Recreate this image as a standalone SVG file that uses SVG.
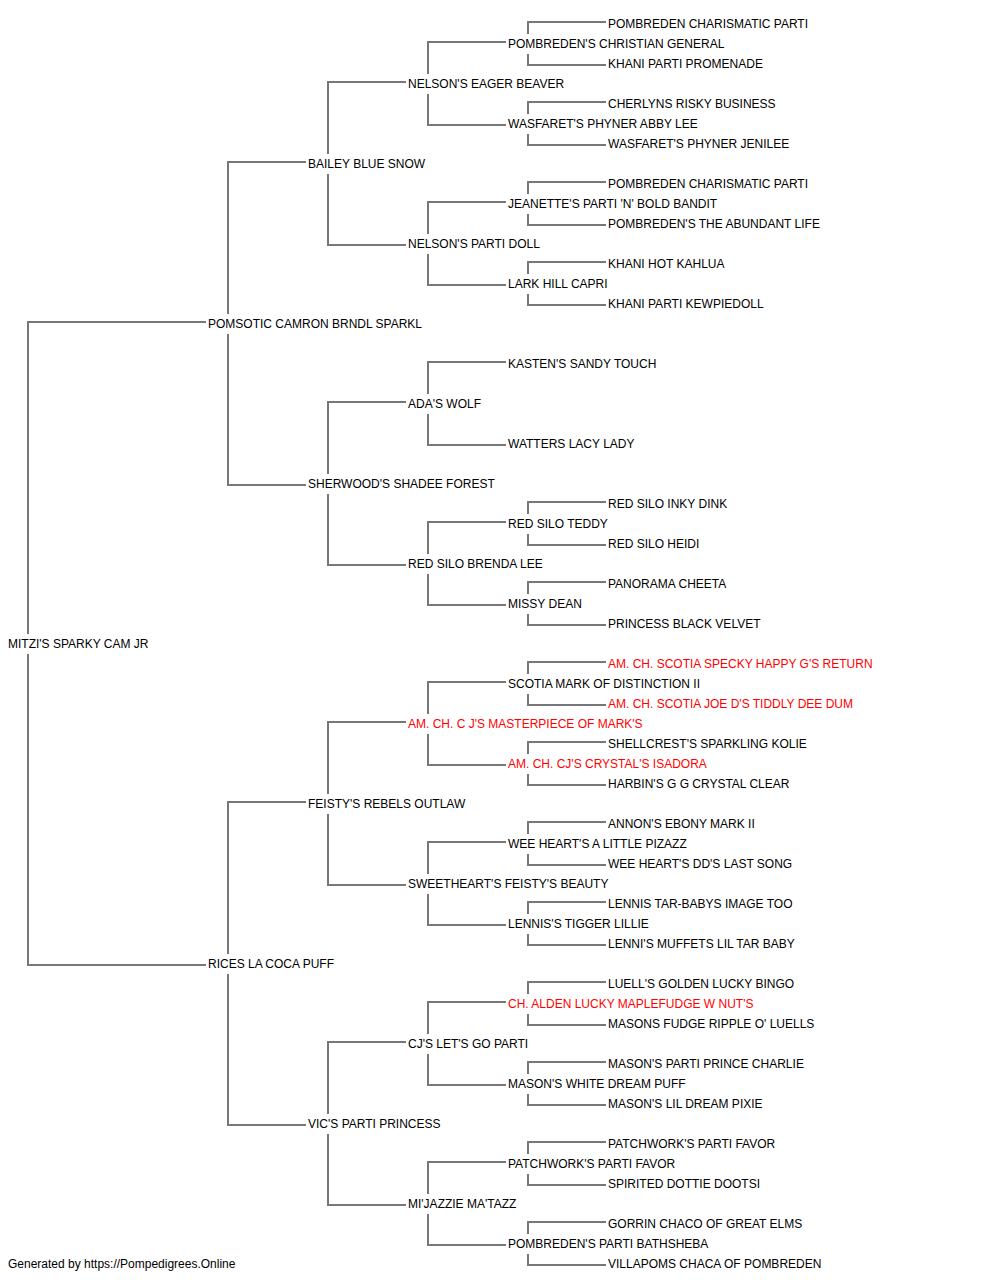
<svg xmlns="http://www.w3.org/2000/svg" width="1000" height="1280" viewBox="0 0 1000 1280">
<style>
text{font-family:"Liberation Sans",Arial,sans-serif;font-size:12px;fill:#000}
text.red{fill:#ff0000}
.conn path{fill:none;stroke:#777;stroke-width:2}
</style>
<rect width="1000" height="1280" fill="#fff"/>
<g class="conn" id="connectors">
<path d="M206,322 H28 V634 M28,654 V965 H206"/>
<path d="M306,162 H228 V314 M228,334 V485 H306"/>
<path d="M306,802 H228 V954 M228,974 V1125 H306"/>
<path d="M406,82 H328 V154 M328,174 V245 H406"/>
<path d="M406,402 H328 V474 M328,494 V565 H406"/>
<path d="M406,722 H328 V794 M328,814 V885 H406"/>
<path d="M406,1042 H328 V1114 M328,1134 V1205 H406"/>
<path d="M506,42 H428 V74 M428,94 V125 H506"/>
<path d="M506,202 H428 V234 M428,254 V285 H506"/>
<path d="M506,362 H428 V394 M428,414 V445 H506"/>
<path d="M506,522 H428 V554 M428,574 V605 H506"/>
<path d="M506,682 H428 V714 M428,734 V765 H506"/>
<path d="M506,842 H428 V874 M428,894 V925 H506"/>
<path d="M506,1002 H428 V1034 M428,1054 V1085 H506"/>
<path d="M506,1162 H428 V1194 M428,1214 V1245 H506"/>
<path d="M606,22 H528 V34 M528,54 V65 H606"/>
<path d="M606,102 H528 V114 M528,134 V145 H606"/>
<path d="M606,182 H528 V194 M528,214 V225 H606"/>
<path d="M606,262 H528 V274 M528,294 V305 H606"/>
<path d="M606,502 H528 V514 M528,534 V545 H606"/>
<path d="M606,582 H528 V594 M528,614 V625 H606"/>
<path d="M606,662 H528 V674 M528,694 V705 H606"/>
<path d="M606,742 H528 V754 M528,774 V785 H606"/>
<path d="M606,822 H528 V834 M528,854 V865 H606"/>
<path d="M606,902 H528 V914 M528,934 V945 H606"/>
<path d="M606,982 H528 V994 M528,1014 V1025 H606"/>
<path d="M606,1062 H528 V1074 M528,1094 V1105 H606"/>
<path d="M606,1142 H528 V1154 M528,1174 V1185 H606"/>
<path d="M606,1222 H528 V1234 M528,1254 V1265 H606"/>
</g>
<g id="n0"><text x="8" y="648">MITZI'S SPARKY CAM JR</text></g>
<g id="n1"><text x="208" y="328">POMSOTIC CAMRON BRNDL SPARKL</text></g>
<g id="n2"><text x="208" y="968">RICES LA COCA PUFF</text></g>
<g id="n3"><text x="308" y="168">BAILEY BLUE SNOW</text></g>
<g id="n4"><text x="308" y="488">SHERWOOD'S SHADEE FOREST</text></g>
<g id="n5"><text x="308" y="808">FEISTY'S REBELS OUTLAW</text></g>
<g id="n6"><text x="308" y="1128">VIC'S PARTI PRINCESS</text></g>
<g id="n7"><text x="408" y="88">NELSON'S EAGER BEAVER</text></g>
<g id="n8"><text x="408" y="248">NELSON'S PARTI DOLL</text></g>
<g id="n9"><text x="408" y="408">ADA'S WOLF</text></g>
<g id="n10"><text x="408" y="568">RED SILO BRENDA LEE</text></g>
<g id="n11"><text class="red" x="408" y="728">AM. CH. C J'S MASTERPIECE OF MARK'S</text></g>
<g id="n12"><text x="408" y="888">SWEETHEART'S FEISTY'S BEAUTY</text></g>
<g id="n13"><text x="408" y="1048">CJ'S LET'S GO PARTI</text></g>
<g id="n14"><text x="408" y="1208">MI'JAZZIE MA'TAZZ</text></g>
<g id="n15"><text x="508" y="48">POMBREDEN'S CHRISTIAN GENERAL</text></g>
<g id="n16"><text x="508" y="128">WASFARET'S PHYNER ABBY LEE</text></g>
<g id="n17"><text x="508" y="208">JEANETTE'S PARTI 'N' BOLD BANDIT</text></g>
<g id="n18"><text x="508" y="288">LARK HILL CAPRI</text></g>
<g id="n19"><text x="508" y="368">KASTEN'S SANDY TOUCH</text></g>
<g id="n20"><text x="508" y="448">WATTERS LACY LADY</text></g>
<g id="n21"><text x="508" y="528">RED SILO TEDDY</text></g>
<g id="n22"><text x="508" y="608">MISSY DEAN</text></g>
<g id="n23"><text x="508" y="688">SCOTIA MARK OF DISTINCTION II</text></g>
<g id="n24"><text class="red" x="508" y="768">AM. CH. CJ'S CRYSTAL'S ISADORA</text></g>
<g id="n25"><text x="508" y="848">WEE HEART'S A LITTLE PIZAZZ</text></g>
<g id="n26"><text x="508" y="928">LENNIS'S TIGGER LILLIE</text></g>
<g id="n27"><text class="red" x="508" y="1008">CH. ALDEN LUCKY MAPLEFUDGE W NUT'S</text></g>
<g id="n28"><text x="508" y="1088">MASON'S WHITE DREAM PUFF</text></g>
<g id="n29"><text x="508" y="1168">PATCHWORK'S PARTI FAVOR</text></g>
<g id="n30"><text x="508" y="1248">POMBREDEN'S PARTI BATHSHEBA</text></g>
<g id="n31"><text x="608" y="28">POMBREDEN CHARISMATIC PARTI</text></g>
<g id="n32"><text x="608" y="68">KHANI PARTI PROMENADE</text></g>
<g id="n33"><text x="608" y="108">CHERLYNS RISKY BUSINESS</text></g>
<g id="n34"><text x="608" y="148">WASFARET'S PHYNER JENILEE</text></g>
<g id="n35"><text x="608" y="188">POMBREDEN CHARISMATIC PARTI</text></g>
<g id="n36"><text x="608" y="228">POMBREDEN'S THE ABUNDANT LIFE</text></g>
<g id="n37"><text x="608" y="268">KHANI HOT KAHLUA</text></g>
<g id="n38"><text x="608" y="308">KHANI PARTI KEWPIEDOLL</text></g>
<g id="n39"><text x="608" y="508">RED SILO INKY DINK</text></g>
<g id="n40"><text x="608" y="548">RED SILO HEIDI</text></g>
<g id="n41"><text x="608" y="588">PANORAMA CHEETA</text></g>
<g id="n42"><text x="608" y="628">PRINCESS BLACK VELVET</text></g>
<g id="n43"><text class="red" x="608" y="668">AM. CH. SCOTIA SPECKY HAPPY G'S RETURN</text></g>
<g id="n44"><text class="red" x="608" y="708">AM. CH. SCOTIA JOE D'S TIDDLY DEE DUM</text></g>
<g id="n45"><text x="608" y="748">SHELLCREST'S SPARKLING KOLIE</text></g>
<g id="n46"><text x="608" y="788">HARBIN'S G G CRYSTAL CLEAR</text></g>
<g id="n47"><text x="608" y="828">ANNON'S EBONY MARK II</text></g>
<g id="n48"><text x="608" y="868">WEE HEART'S DD'S LAST SONG</text></g>
<g id="n49"><text x="608" y="908">LENNIS TAR-BABYS IMAGE TOO</text></g>
<g id="n50"><text x="608" y="948">LENNI'S MUFFETS LIL TAR BABY</text></g>
<g id="n51"><text x="608" y="988">LUELL'S GOLDEN LUCKY BINGO</text></g>
<g id="n52"><text x="608" y="1028">MASONS FUDGE RIPPLE O' LUELLS</text></g>
<g id="n53"><text x="608" y="1068">MASON'S PARTI PRINCE CHARLIE</text></g>
<g id="n54"><text x="608" y="1108">MASON'S LIL DREAM PIXIE</text></g>
<g id="n55"><text x="608" y="1148">PATCHWORK'S PARTI FAVOR</text></g>
<g id="n56"><text x="608" y="1188">SPIRITED DOTTIE DOOTSI</text></g>
<g id="n57"><text x="608" y="1228">GORRIN CHACO OF GREAT ELMS</text></g>
<g id="n58"><text x="608" y="1268">VILLAPOMS CHACA OF POMBREDEN</text></g>
<g id="footer"><text x="8" y="1268">Generated by https://Pompedigrees.Online</text></g>
</svg>
